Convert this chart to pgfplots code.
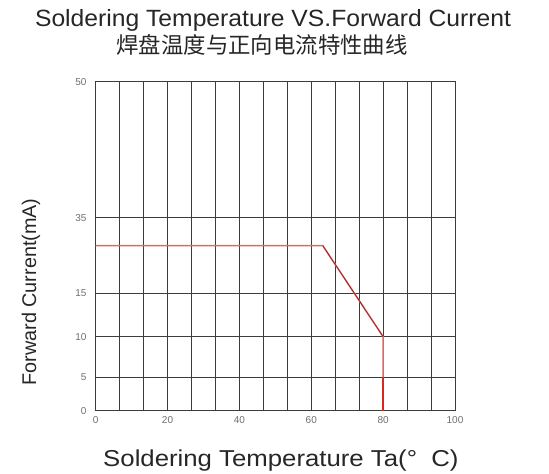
\documentclass[border=0pt]{standalone}
\usepackage{pgfplots}
\pgfplotsset{compat=1.18}
\usepackage{fontspec}
\setmainfont{Liberation Sans}
\newfontfamily\cjk{Noto Sans CJK SC}
\definecolor{curvered}{RGB}{228,100,100}
\definecolor{curvedark}{RGB}{120,30,30}
\definecolor{curvebright}{RGB}{215,40,30}
\definecolor{gridc}{RGB}{60,60,60}
\definecolor{tickc}{RGB}{110,110,110}
\begin{document}
\begin{tikzpicture}
\path[use as bounding box] (0,0) rectangle (549pt,474pt);
\begin{axis}[
  at={(95.7pt,63.3pt)}, anchor=south west,
  scale only axis, width=359.3pt, height=329pt,
  xmin=0, xmax=100, ymin=0, ymax=50,
  y coord trafo/.code={\pgfmathparse{#1<=5 ? 1.015*#1 : (#1<=10 ? 5.075+1.235*(#1-5) : (#1<=15 ? 11.25+1.318*(#1-10) : (#1<=35 ? 17.84+0.5745*(#1-15) : 29.33+1.378*(#1-35))))}},
  xtick={0,20,40,60,80,100},
  minor xtick={6.6667,13.3333,26.6667,33.3333,46.6667,53.3333,66.6667,73.3333,86.6667,93.3333},
  ytick={0,5,10,15,35,50},
  yticklabels={0,5,10,15,35,50},
  grid=both,
  major grid style={draw=gridc, line width=0.8pt},
  minor grid style={draw=gridc, line width=0.8pt},
  axis line style={draw=gridc, line width=0.8pt},
  tick style={draw=none},
  /pgf/number format/assume math mode=true,
  xticklabel style={font=\fontsize{10}{12}\selectfont, text=tickc, inner sep=0pt, yshift=-6pt},
  yticklabel style={font=\fontsize{10}{12}\selectfont, text=tickc, inner sep=0pt, xshift=-9pt},
  clip=false,
]
\addplot[curvered, line width=1.6pt] coordinates {(0,27.6) (63.2,27.6) (80,10) (80,0)};
\addplot[curvedark, line width=0.5pt] coordinates {(63.2,27.6) (80,10)};
\addplot[curvebright, line width=2pt] coordinates {(80,5) (80,0)};
\node[anchor=center, font=\fontsize{23.5}{26}\selectfont, text=black!85] at (axis description cs:0.4935,1.1875) {\scalebox{1.05}[1]{Soldering Temperature VS.Forward Current}};
\node[anchor=center, font=\cjk\fontsize{22.4}{24}\selectfont, text=black!85] at (axis description cs:0.463,1.1116) {焊盘温度与正向电流特性曲线};
\node[anchor=center, font=\fontsize{23}{26}\selectfont, text=black!85] at (axis description cs:0.5155,-0.153) {\scalebox{1.12}[1]{Soldering Temperature Ta(°\ \ C)}};
\node[anchor=center, rotate=90, font=\fontsize{19.8}{24}\selectfont, text=black!85] at (axis description cs:-0.180,0.3608) {Forward Current(mA)};
\end{axis}
\end{tikzpicture}
\end{document}
